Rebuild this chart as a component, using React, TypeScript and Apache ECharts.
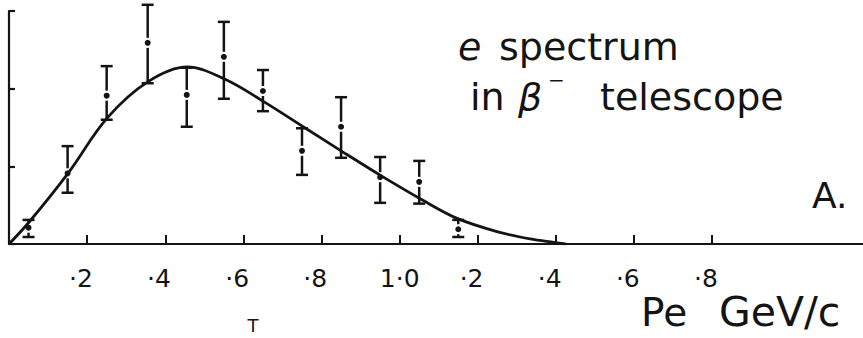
import React, { useEffect, useRef } from "react";
import * as echarts from "echarts";

// Momentum axis ticks (GeV/c) and their printed labels
const momentumTicks = [0.2, 0.4, 0.6, 0.8, 1.0, 1.2, 1.4, 1.6, 1.8];
const tickLabels = ["·2", "·4", "·6", "·8", "1·0", "·2", "·4", "·6", "·8"];

// Measured electron counts per momentum bin, with error limits
const binCentres = [0.05, 0.15, 0.25, 0.355, 0.455, 0.55, 0.65, 0.75, 0.85, 0.95, 1.05, 1.15];
const counts = [0.21, 0.91, 1.91, 2.59, 1.92, 2.41, 1.97, 1.2, 1.51, 0.86, 0.8, 0.19];
const countsLow = [0.09, 0.66, 1.6, 2.07, 1.51, 1.87, 1.71, 0.89, 1.11, 0.53, 0.52, 0.09];
const countsHigh = [0.31, 1.26, 2.29, 3.08, 2.27, 2.86, 2.24, 1.49, 1.89, 1.12, 1.07, 0.31];

// Expected spectrum shape
const curveMomentum = [0, 0.051, 0.151, 0.251, 0.356, 0.456, 0.553, 0.653, 0.753, 0.853, 0.952, 1.057, 1.147, 1.249, 1.334, 1.395, 1.425];
const curveRate = [0, 0.28, 0.91, 1.62, 2.09, 2.28, 2.12, 1.83, 1.51, 1.19, 0.88, 0.57, 0.33, 0.16, 0.065, 0.02, 0];

const INK = "#141414";
const FONT = "DejaVu Sans";
const LABEL_SIZE = 25;

export default function App() {
  const ref = useRef<HTMLDivElement>(null);

  useEffect(() => {
    document.body.style.margin = "0";
    const chart = echarts.init(ref.current as HTMLDivElement, null, { renderer: "svg" });

    // Labels that start with a decimal point sit a little left of their tick
    const labelFor = (v: number) => {
      const i = momentumTicks.findIndex((t) => Math.abs(t - v) < 1e-6);
      if (i < 0) return "";
      const s = tickLabels[i];
      return s.startsWith("·") ? `${s}\u2002` : s;
    };

    const option: any = {
      animation: false,
      backgroundColor: "#ffffff",
      grid: { left: 9, right: 0, top: 11, bottom: 94, containLabel: false },
      xAxis: {
        type: "value",
        min: 0,
        max: 2.186,
        splitLine: { show: false },
        axisLine: { show: true, lineStyle: { color: INK, width: 2.2 } },
        axisTick: {
          show: true,
          inside: true,
          length: 9,
          customValues: momentumTicks,
          lineStyle: { color: INK, width: 2 },
        },
        axisLabel: {
          show: true,
          customValues: momentumTicks,
          margin: 34,
          verticalAlign: "middle",
          fontFamily: FONT,
          fontSize: LABEL_SIZE,
          color: INK,
          formatter: labelFor,
        },
      },
      yAxis: {
        type: "value",
        min: 0,
        max: 3,
        interval: 1,
        splitLine: { show: false },
        axisLine: { show: true, lineStyle: { color: INK, width: 2.2 } },
        axisTick: { show: true, inside: true, length: 6, lineStyle: { color: INK, width: 2.2 } },
        axisLabel: { show: false },
      },
      series: [
        {
          type: "line",
          data: curveMomentum.map((x, i) => [x, curveRate[i]]),
          smooth: 0.35,
          showSymbol: false,
          lineStyle: { color: INK, width: 2.8 },
          z: 3,
        },
        {
          type: "custom",
          data: binCentres.map((x, i) => [x, counts[i], countsLow[i], countsHigh[i]]),
          encode: { x: 0, y: [1, 2, 3] },
          clip: false,
          z: 4,
          renderItem: (params: any, api: any) => {
            const x = api.value(0);
            const pD = api.coord([x, api.value(1)]);
            const pLo = api.coord([x, api.value(2)]);
            const pHi = api.coord([x, api.value(3)]);
            const cx = pD[0];
            const cap = 6;
            const gap = 5;
            const style = { stroke: INK, lineWidth: 2.5 };
            const children: any[] = [
              { type: "line", shape: { x1: cx - cap, y1: pHi[1], x2: cx + cap, y2: pHi[1] }, style },
              { type: "line", shape: { x1: cx - cap, y1: pLo[1], x2: cx + cap, y2: pLo[1] }, style },
            ];
            if (pD[1] - gap > pHi[1]) {
              children.push({ type: "line", shape: { x1: cx, y1: pHi[1], x2: cx, y2: pD[1] - gap }, style });
            }
            if (pD[1] + gap < pLo[1]) {
              children.push({ type: "line", shape: { x1: cx, y1: pD[1] + gap, x2: cx, y2: pLo[1] }, style });
            }
            children.push({ type: "circle", shape: { cx, cy: pD[1], r: 3 }, style: { fill: INK } });
            return { type: "group", children };
          },
        },
      ],
      graphic: [
        { type: "text", x: 458, y: 47, style: { text: "e", font: `italic 38px '${FONT}'`, fill: INK, align: "left", verticalAlign: "middle" } },
        { type: "text", x: 499, y: 47, style: { text: "spectrum", font: `38px '${FONT}'`, fill: INK, align: "left", verticalAlign: "middle" } },
        { type: "text", x: 470, y: 97, style: { text: "in", font: `38px '${FONT}'`, fill: INK, align: "left", verticalAlign: "middle" } },
        { type: "text", x: 518, y: 97, style: { text: "β", font: `italic 38px '${FONT}'`, fill: INK, align: "left", verticalAlign: "middle" } },
        { type: "text", x: 548, y: 80, style: { text: "−", font: `20px '${FONT}'`, fill: INK, align: "left", verticalAlign: "middle" } },
        { type: "text", x: 600, y: 97, style: { text: "telescope", font: `38px '${FONT}'`, fill: INK, align: "left", verticalAlign: "middle" } },
        { type: "text", x: 812, y: 195, style: { text: "A.", font: `36px '${FONT}'`, fill: INK, align: "left", verticalAlign: "middle" } },
        { type: "text", x: 641, y: 312, style: { text: "Pe", font: `39px '${FONT}'`, fill: INK, align: "left", verticalAlign: "middle" } },
        { type: "text", x: 719, y: 312, style: { text: "GeV/c", font: `41px '${FONT}'`, fill: INK, align: "left", verticalAlign: "middle" } },
        { type: "text", x: 253, y: 325, style: { text: "T", font: `18px '${FONT}'`, fill: INK, align: "center", verticalAlign: "middle" } },
      ],
    };

    chart.setOption(option);
    return () => chart.dispose();
  }, []);

  return (
    <div
      ref={ref}
      style={{ position: "absolute", left: 0, top: 0, width: 863, height: 338, background: "#ffffff" }}
    />
  );
}
